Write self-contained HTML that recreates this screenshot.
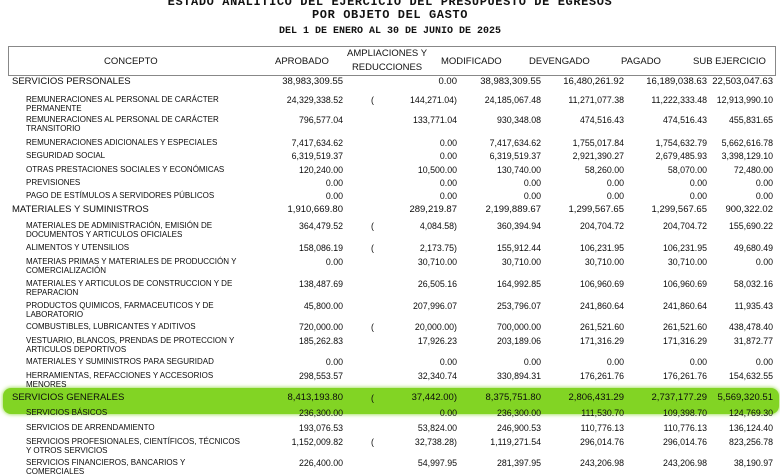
<!DOCTYPE html><html><head><meta charset="utf-8"><style>
body{margin:0;width:780px;height:470px;overflow:hidden;background:#fff;font-family:"Liberation Sans",Arial,sans-serif;color:#111;position:relative}
.t{position:absolute;left:0;width:780px;text-align:center;font-family:"Liberation Mono",monospace;font-weight:bold;font-size:10px;color:#111}
.r{position:absolute;left:0;width:780px;height:12px;line-height:12px;font-size:8.8px;color:#0c0c0c}
.r span{position:absolute;white-space:nowrap}
.k{left:12px;font-size:9.5px}
.s{left:26px;font-size:8px;line-height:9px;top:1px}
.a{right:437px}.b{right:323px}.c{right:239px}.d{right:156px}.e{right:73px}.f{right:7px}
.p{left:371px}
.top .a,.top .b,.top .c,.top .d,.top .e,.top .f{font-size:9.5px}
.hd{position:absolute;top:46px;left:8px;width:766px;height:28px;border:1px solid #888;font-size:9.5px}
.hd span{position:absolute;text-align:center}
.g{position:absolute;left:3px;top:388px;width:776px;height:26px;background:#82d424;border-radius:8px;box-shadow:0 0 4px #82d424}
</style></head><body>
<div class="t" style="top:-5px;font-size:12px;letter-spacing:0.6px">ESTADO ANALITICO DEL EJERCICIO DEL PRESUPUESTO DE EGRESOS</div>
<div class="t" style="top:8px;font-size:12px;letter-spacing:0.6px">POR OBJETO DEL GASTO</div>
<div class="t" style="top:26px">DEL 1 DE ENERO AL 30 DE JUNIO DE 2025</div>
<div class="hd">
<span style="left:95px;top:9px">CONCEPTO</span>
<span style="left:266px;top:9px">APROBADO</span>
<span style="left:338px;top:0px;line-height:14px">AMPLIACIONES Y<br>REDUCCIONES</span>
<span style="left:432px;top:9px">MODIFICADO</span>
<span style="left:520px;top:9px">DEVENGADO</span>
<span style="left:612px;top:9px">PAGADO</span>
<span style="left:684px;top:9px">SUB EJERCICIO</span>
</div>
<div class="g"></div>

<div class="r top" style="top:76px"><span class="k">SERVICIOS PERSONALES</span><span class="a">38,983,309.55</span><span class="b">0.00</span><span class="c">38,983,309.55</span><span class="d">16,480,261.92</span><span class="e">16,189,038.63</span><span class="f">22,503,047.63</span></div>
<div class="r" style="top:94px"><span class="s">REMUNERACIONES AL PERSONAL DE CARÁCTER<br>PERMANENTE</span><span class="a">24,329,338.52</span><span class="p">(</span><span class="b">144,271.04)</span><span class="c">24,185,067.48</span><span class="d">11,271,077.38</span><span class="e">11,222,333.48</span><span class="f">12,913,990.10</span></div>
<div class="r" style="top:114px"><span class="s">REMUNERACIONES AL PERSONAL DE CARÁCTER<br>TRANSITORIO</span><span class="a">796,577.04</span><span class="b">133,771.04</span><span class="c">930,348.08</span><span class="d">474,516.43</span><span class="e">474,516.43</span><span class="f">455,831.65</span></div>
<div class="r" style="top:137px"><span class="s">REMUNERACIONES ADICIONALES Y ESPECIALES</span><span class="a">7,417,634.62</span><span class="b">0.00</span><span class="c">7,417,634.62</span><span class="d">1,755,017.84</span><span class="e">1,754,632.79</span><span class="f">5,662,616.78</span></div>
<div class="r" style="top:150px"><span class="s">SEGURIDAD SOCIAL</span><span class="a">6,319,519.37</span><span class="b">0.00</span><span class="c">6,319,519.37</span><span class="d">2,921,390.27</span><span class="e">2,679,485.93</span><span class="f">3,398,129.10</span></div>
<div class="r" style="top:164px"><span class="s">OTRAS PRESTACIONES SOCIALES Y ECONÓMICAS</span><span class="a">120,240.00</span><span class="b">10,500.00</span><span class="c">130,740.00</span><span class="d">58,260.00</span><span class="e">58,070.00</span><span class="f">72,480.00</span></div>
<div class="r" style="top:177px"><span class="s">PREVISIONES</span><span class="a">0.00</span><span class="b">0.00</span><span class="c">0.00</span><span class="d">0.00</span><span class="e">0.00</span><span class="f">0.00</span></div>
<div class="r" style="top:190px"><span class="s">PAGO DE ESTÍMULOS A SERVIDORES PÚBLICOS</span><span class="a">0.00</span><span class="b">0.00</span><span class="c">0.00</span><span class="d">0.00</span><span class="e">0.00</span><span class="f">0.00</span></div>
<div class="r top" style="top:204px"><span class="k">MATERIALES Y SUMINISTROS</span><span class="a">1,910,669.80</span><span class="b">289,219.87</span><span class="c">2,199,889.67</span><span class="d">1,299,567.65</span><span class="e">1,299,567.65</span><span class="f">900,322.02</span></div>
<div class="r" style="top:220px"><span class="s">MATERIALES DE ADMINISTRACIÓN, EMISIÓN DE<br>DOCUMENTOS Y ARTICULOS OFICIALES</span><span class="a">364,479.52</span><span class="p">(</span><span class="b">4,084.58)</span><span class="c">360,394.94</span><span class="d">204,704.72</span><span class="e">204,704.72</span><span class="f">155,690.22</span></div>
<div class="r" style="top:242px"><span class="s">ALIMENTOS Y UTENSILIOS</span><span class="a">158,086.19</span><span class="p">(</span><span class="b">2,173.75)</span><span class="c">155,912.44</span><span class="d">106,231.95</span><span class="e">106,231.95</span><span class="f">49,680.49</span></div>
<div class="r" style="top:256px"><span class="s">MATERIAS PRIMAS Y MATERIALES DE PRODUCCIÓN Y<br>COMERCIALIZACIÓN</span><span class="a">0.00</span><span class="b">30,710.00</span><span class="c">30,710.00</span><span class="d">30,710.00</span><span class="e">30,710.00</span><span class="f">0.00</span></div>
<div class="r" style="top:278px"><span class="s">MATERIALES Y ARTICULOS DE CONSTRUCCION Y DE<br>REPARACION</span><span class="a">138,487.69</span><span class="b">26,505.16</span><span class="c">164,992.85</span><span class="d">106,960.69</span><span class="e">106,960.69</span><span class="f">58,032.16</span></div>
<div class="r" style="top:300px"><span class="s">PRODUCTOS QUIMICOS, FARMACEUTICOS Y DE<br>LABORATORIO</span><span class="a">45,800.00</span><span class="b">207,996.07</span><span class="c">253,796.07</span><span class="d">241,860.64</span><span class="e">241,860.64</span><span class="f">11,935.43</span></div>
<div class="r" style="top:321px"><span class="s">COMBUSTIBLES, LUBRICANTES Y ADITIVOS</span><span class="a">720,000.00</span><span class="p">(</span><span class="b">20,000.00)</span><span class="c">700,000.00</span><span class="d">261,521.60</span><span class="e">261,521.60</span><span class="f">438,478.40</span></div>
<div class="r" style="top:335px"><span class="s">VESTUARIO, BLANCOS, PRENDAS DE PROTECCION Y<br>ARTICULOS DEPORTIVOS</span><span class="a">185,262.83</span><span class="b">17,926.23</span><span class="c">203,189.06</span><span class="d">171,316.29</span><span class="e">171,316.29</span><span class="f">31,872.77</span></div>
<div class="r" style="top:356px"><span class="s">MATERIALES Y SUMINISTROS PARA SEGURIDAD</span><span class="a">0.00</span><span class="b">0.00</span><span class="c">0.00</span><span class="d">0.00</span><span class="e">0.00</span><span class="f">0.00</span></div>
<div class="r" style="top:370px"><span class="s">HERRAMIENTAS, REFACCIONES Y ACCESORIOS<br>MENORES</span><span class="a">298,553.57</span><span class="b">32,340.74</span><span class="c">330,894.31</span><span class="d">176,261.76</span><span class="e">176,261.76</span><span class="f">154,632.55</span></div>
<div class="r top" style="top:392px"><span class="k">SERVICIOS GENERALES</span><span class="a">8,413,193.80</span><span class="p">(</span><span class="b">37,442.00)</span><span class="c">8,375,751.80</span><span class="d">2,806,431.29</span><span class="e">2,737,177.29</span><span class="f">5,569,320.51</span></div>
<div class="r" style="top:407px"><span class="s">SERVICIOS BÁSICOS</span><span class="a">236,300.00</span><span class="b">0.00</span><span class="c">236,300.00</span><span class="d">111,530.70</span><span class="e">109,398.70</span><span class="f">124,769.30</span></div>
<div class="r" style="top:422px"><span class="s">SERVICIOS DE ARRENDAMIENTO</span><span class="a">193,076.53</span><span class="b">53,824.00</span><span class="c">246,900.53</span><span class="d">110,776.13</span><span class="e">110,776.13</span><span class="f">136,124.40</span></div>
<div class="r" style="top:436px"><span class="s">SERVICIOS PROFESIONALES, CIENTÍFICOS, TÉCNICOS<br>Y OTROS SERVICIOS</span><span class="a">1,152,009.82</span><span class="p">(</span><span class="b">32,738.28)</span><span class="c">1,119,271.54</span><span class="d">296,014.76</span><span class="e">296,014.76</span><span class="f">823,256.78</span></div>
<div class="r" style="top:457px"><span class="s">SERVICIOS FINANCIEROS, BANCARIOS Y<br>COMERCIALES</span><span class="a">226,400.00</span><span class="b">54,997.95</span><span class="c">281,397.95</span><span class="d">243,206.98</span><span class="e">243,206.98</span><span class="f">38,190.97</span></div>
</body></html>
